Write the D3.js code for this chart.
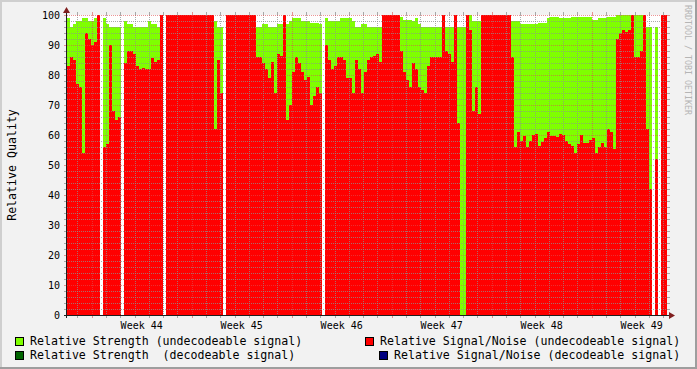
<!DOCTYPE html>
<html>

<head>
    <meta charset="utf-8">
    <script src="https://cdn.jsdelivr.net/npm/d3@7"></script>
    <style>
        body {
            margin: 0;
        }

        text {
            font-family: "DejaVu Sans Mono", monospace;
            fill: black;
            white-space: pre;
        }
    </style>
</head>

<body>

    <script>

        // one sample every 5.04 hours, starting Sat 30 Oct 2010 06:30 UTC (null = unknown)
        var strength = [
            99, 96, 97, 98, 98, 99, 99, 98, 98, 99,
            100, null, 99, 97, 96, 96, 96, 96, null, 98,
            97, 97, 96, 96, 96, 96, 96, 98, 97, 97,
            96, 100, null, 100, 100, 100, 100, 100, 100, 100,
            100, 100, 100, 100, 100, 100, 100, 100, 100, 98,
            96, 96, null, 100, 100, 100, 100, 100, 100, 100,
            100, 100, 100, 96, 96, 97, 97, 96, 96, 96,
            97, 97, 100, 97, 98, 99, 99, 99, 98, 98,
            98, 97.5, 97.5, 97.5, 97, null, 99, 98, 98, 98,
            98, 99, 99, 99, 99, 98, 96, 96, 97, 97,
            96, 96, 96, 96, 96, 100, 100, 100, 100, 100,
            100, 99.5, 98.5, 98.5, 98.5, 98, 99, 97, 96, 96,
            96, 96, 96, 96, 96, 96, 96, 96, 96, 96,
            96, 96, 96, 100, 100, 98, 98, 98, 100, 100,
            100, 100, 100, 100, 100, 100, 100, 100, 98, 98,
            98, 97, 97, 97, 97, 97, 97, 97.5, 97.5, 97.5,
            99, 99.5, 99.5, 99.5, 99, 99, 99, 99, 99.5, 99.5,
            99.5, 99.5, 99.5, 99.5, 99.5, 98.5, 98.5, 99, 99, 99,
            99.5, 99.5, 99.5, 100, 100, 100, 100, 100, 100, 100,
            100, 100, 100, 96, 96, null, 96, null, 100, 100
        ];

        var signalNoise = [
            83, 86, 85, 77, 76, 54, 94, 92, 90, 91,
            100, null, 56, 57, 90, 68, 65, 66, null, 84,
            88, 88, 87, 83, 82, 82.5, 82, 82, 85.6, 84.5,
            85, 100, null, 100, 100, 100, 100, 100, 100, 100,
            100, 100, 100, 100, 100, 100, 100, 100, 100, 62,
            85, 74, null, 100, 100, 100, 100, 100, 100, 100,
            100, 100, 100, 86, 86, 84, 82, 79, 84.4, 74,
            87, 86.5, 100, 65, 70, 81, 86, 84, 81, 78.5,
            79.5, 70, 73, 76, 74, null, 90, 85, 82, 83,
            86, 86, 85, 79, 79, 74, 85, 82, 74, 81,
            85, 86, 86.5, 87, 84.4, 100, 100, 100, 100, 100,
            100, 88, 81, 78.5, 76, 84, 82, 76, 75, 74,
            83, 86, 86, 86, 86, 100, 88, 87, 84.5, 100,
            64, 0, 0, 100, 95, 68, 76, 67, 100, 100,
            100, 100, 100, 100, 100, 100, 100, 100, 86, 56,
            61, 58, 59.7, 56, 58, 60, 60.5, 56.5, 57.8, 59,
            61, 59.7, 59.7, 59.5, 60.5, 60, 58, 57, 56.5, 54,
            57, 60, 57.5, 57.2, 58.5, 59, 54, 56, 57.5, 56,
            62, 61, 55.5, 92, 94, 95, 94.5, 95, 100, 86,
            86, 88, 100, 62, 42, null, 52, null, 100, 100
        ];

        var yTicks = [0, 10, 20, 30, 40, 50, 60, 70, 80, 90, 100];

        var legendLabels = [
            "Relative Strength (undecodeable signal)",
            "Relative Strength  (decodeable signal)",
            "Relative Signal/Noise (undecodeable signal)",
            "Relative Signal/Noise (decodeable signal)"
        ];
        var legendColors = ["#7FFF00", "#006400", "#FF0000", "#000080"];

        var start = Date.UTC(2010, 9, 30, 6, 30);
        var step = 5.04 * 3600 * 1000;
        var end = start + strength.length * step;

        var svg = d3.select('body')
            .append('svg')
            .attr('width', 697)
            .attr('height', 369);

        // background and 3d frame
        svg.append('rect').attr('width', 697).attr('height', 369).attr('fill', '#F2F2F2');
        svg.append('path').attr('d', 'M0,1H697M1,0V369').attr('stroke', '#CFCFCF').attr('stroke-width', 2);
        svg.append('path').attr('d', 'M0,368H697M696,0V369').attr('stroke', '#9E9E9E').attr('stroke-width', 2);

        var x = d3.scaleUtc().domain([start, end]).range([67, 667]);
        var y = d3.scaleLinear().domain([0, 100]).range([315, 15]);

        svg.append('rect')
            .attr('x', 67).attr('y', 15)
            .attr('width', 600).attr('height', 300)
            .attr('fill', 'white');

        function bars(values, color) {
            svg.append('g')
                .attr('shape-rendering', 'crispEdges')
                .selectAll('rect')
                .data(values.map(function (v, i) { return { v: v, i: i }; })
                    .filter(function (d) { return d.v !== null && d.v > 0; }))
                .join('rect')
                .attr('x', function (d) { return x(start + d.i * step); })
                .attr('width', function (d) { return x(start + (d.i + 1) * step) - x(start + d.i * step); })
                .attr('y', function (d) { return y(d.v); })
                .attr('height', function (d) { return y(0) - y(d.v); })
                .attr('fill', color);
        }

        bars(strength, '#7FFF00');
        bars(signalNoise, '#FF0000');

        // grid
        var grid = svg.append('g').attr('shape-rendering', 'crispEdges');

        function hLine(v, color) {
            var yy = Math.round(y(v)) + 0.5;
            grid.append('line').attr('x1', 67).attr('x2', 667).attr('y1', yy).attr('y2', yy)
                .attr('stroke', color).attr('stroke-dasharray', '1,1');
            grid.append('path').attr('d', 'M64,' + yy + 'H67M667,' + yy + 'H670').attr('stroke', color);
        }

        function vLine(t, color) {
            var xx = Math.round(x(t)) + 0.5;
            grid.append('line').attr('x1', xx).attr('x2', xx).attr('y1', 15).attr('y2', 315)
                .attr('stroke', color).attr('stroke-dasharray', '1,1');
            grid.append('path').attr('d', 'M' + xx + ',315V318M' + xx + ',12V15').attr('stroke', color);
        }

        d3.range(0, 101, 2).filter(function (v) { return v % 10 !== 0; })
            .forEach(function (v) { hLine(v, 'rgba(143,143,143,0.75)'); });
        d3.utcDay.range(start, end)
            .filter(function (t) { return t.getUTCDay() !== 1; })
            .forEach(function (t) { vLine(t, 'rgba(143,143,143,0.75)'); });
        yTicks.forEach(function (v) { hLine(v, 'rgba(222,79,79,0.6)'); });
        d3.utcMonday.range(start, end).forEach(function (t) { vLine(t, 'rgba(222,79,79,0.6)'); });

        // axes with arrows
        svg.append('path').attr('d', 'M64,315.5H671').attr('stroke', '#1F1F1F').attr('shape-rendering', 'crispEdges');
        svg.append('path').attr('d', 'M66.5,318V12').attr('stroke', '#1F1F1F').attr('shape-rendering', 'crispEdges');
        svg.append('path').attr('d', 'M669,312L675,315.5L669,319Z').attr('fill', '#801F1F');
        svg.append('path').attr('d', 'M63,13L66.5,7L70,13Z').attr('fill', '#801F1F');

        // tick labels
        svg.append('g').selectAll('text')
            .data(yTicks)
            .join('text')
            .attr('x', 60)
            .attr('y', function (d) { return y(d) + 3.7; })
            .attr('text-anchor', 'end')
            .style('font-size', '10px')
            .text(function (d) { return d; });

        var weekLabel = d3.utcFormat('Week %V');
        svg.append('g').selectAll('text')
            .data(d3.utcMonday.range(d3.utcMonday.floor(new Date(start)), end)
                .map(function (t) { return new Date(+t + 3.5 * 864e5); })
                .filter(function (t) { return t > start && t < end; }))
            .join('text')
            .attr('x', function (d) { return x(d); })
            .attr('y', 329)
            .attr('text-anchor', 'middle')
            .style('font-size', '10px')
            .text(function (d) { return weekLabel(d); });

        svg.append('text')
            .attr('transform', 'translate(15.5,165) rotate(-90)')
            .attr('text-anchor', 'middle')
            .style('font-size', '11.6px')
            .text('Relative Quality');

        svg.append('text')
            .attr('transform', 'translate(684.5,60) rotate(90)')
            .attr('text-anchor', 'middle')
            .style('font-size', '8.3px')
            .style('fill', '#B5B5B5')
            .text('RRDTOOL / TOBI OETIKER');

        // legend
        var legendPos = [[15, 337], [15, 351], [365, 337], [379, 351]];
        var legend = svg.append('g').selectAll('g')
            .data(legendLabels)
            .join('g')
            .attr('transform', function (d, i) { return 'translate(' + legendPos[i] + ')'; });

        legend.append('rect')
            .attr('x', 0.5).attr('y', 0.5)
            .attr('width', 8).attr('height', 8)
            .attr('fill', function (d, i) { return legendColors[i]; })
            .attr('stroke', 'black');

        legend.append('text')
            .attr('x', 15)
            .attr('y', 8.3)
            .style('font-size', '11.6px')
            .text(function (d) { return d; });

    </script>

</body>

</html>
